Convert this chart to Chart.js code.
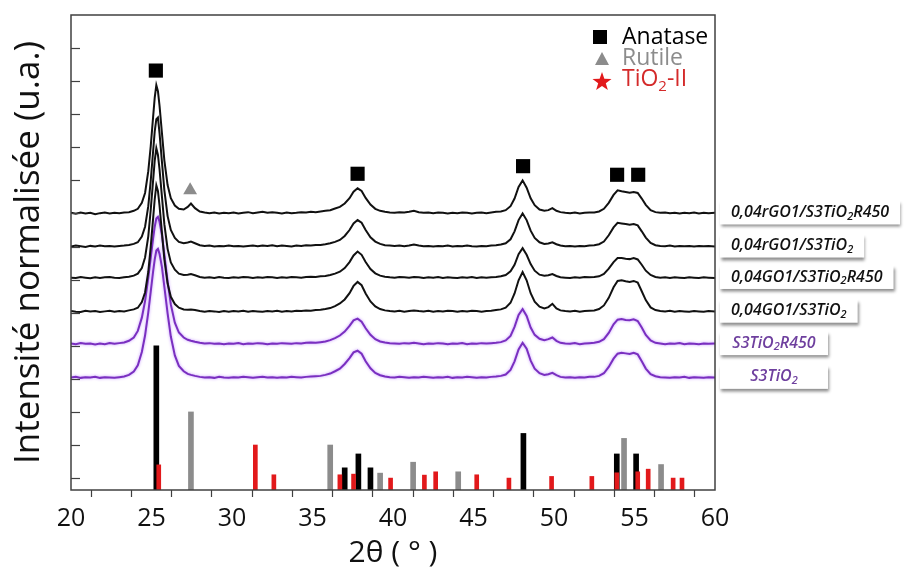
<!DOCTYPE html>
<html lang="fr">
<head>
<meta charset="utf-8">
<title>DRX - TiO2 / GO</title>
<script src="https://cdn.jsdelivr.net/npm/chart.js@4.4.0/dist/chart.umd.min.js"></script>
<style>
  html, body { margin: 0; padding: 0; background: #fff; }
  #wrap { width: 907px; height: 572px; position: relative; }
</style>
</head>
<body>
<div id="wrap"><canvas id="xrdChart"></canvas></div>
<script>
// 2θ grid shared by the measured patterns
const twoTheta = [
  20.0, 20.3, 20.6, 20.9, 21.2, 21.5, 21.8, 22.1, 22.4, 22.7,
  23.0, 23.3, 23.6, 23.9, 24.15, 24.4, 24.6, 24.8, 24.95, 25.1,
  25.2, 25.3, 25.4, 25.5, 25.65, 25.8, 26.0, 26.2, 26.45, 26.7,
  27.0, 27.25, 27.45, 27.7, 28.0, 28.3, 28.6, 28.9, 29.2, 29.5,
  29.8, 30.1, 30.4, 30.7, 31.0, 31.3, 31.6, 31.9, 32.2, 32.5,
  32.8, 33.1, 33.4, 33.7, 34.0, 34.3, 34.6, 34.9, 35.2, 35.5,
  35.8, 36.1, 36.4, 36.7, 37.0, 37.3, 37.55, 37.8, 38.05, 38.3,
  38.6, 38.9, 39.2, 39.5, 39.8, 40.1, 40.4, 40.7, 41.0, 41.3,
  41.6, 41.9, 42.2, 42.5, 42.8, 43.1, 43.4, 43.7, 44.0, 44.3,
  44.6, 44.9, 45.2, 45.5, 45.8, 46.1, 46.4, 46.7, 47.0, 47.3,
  47.55, 47.8, 48.05, 48.3, 48.55, 48.8, 49.1, 49.4, 49.65, 49.9,
  50.15, 50.4, 50.7, 51.0, 51.3, 51.6, 51.9, 52.2, 52.5, 52.8,
  53.1, 53.4, 53.7, 53.95, 54.2, 54.45, 54.7, 54.95, 55.2, 55.45,
  55.7, 56.0, 56.3, 56.6, 56.9, 57.2, 57.5, 57.8, 58.1, 58.4,
  58.7, 59.0, 59.3, 59.6, 60.0
];

// normalised intensity of each sample (without vertical shift)
const rgoR450 = [
  0.02, -0.01, 0.03, 0.00, 0.02, -0.02, 0.01, 0.03, 0.00, 0.02,
  0.01, 0.03, 0.04, 0.08, 0.14, 0.32, 0.62, 1.28, 2.02, 2.92,
  3.50, 3.88, 3.70, 3.25, 2.42, 1.60, 0.86, 0.46, 0.24, 0.14,
  0.12, 0.20, 0.30, 0.16, 0.06, 0.03, 0.01, 0.03, 0.00, 0.02,
  0.01, 0.03, 0.00, 0.02, 0.04, 0.01, 0.03, 0.05, 0.02, 0.04,
  0.02, 0.00, 0.03, 0.01, 0.02, 0.04, 0.03, 0.05, 0.04, 0.06,
  0.08, 0.10, 0.15, 0.20, 0.30, 0.46, 0.66, 0.76, 0.68, 0.47,
  0.27, 0.14, 0.08, 0.05, 0.03, 0.02, 0.04, 0.03, 0.05, 0.08,
  0.04, 0.02, 0.03, 0.01, 0.03, 0.02, 0.00, 0.02, 0.01, 0.03,
  0.02, 0.00, 0.02, 0.03, 0.01, 0.03, 0.05, 0.06, 0.10, 0.22,
  0.45, 0.80, 1.00, 0.78, 0.46, 0.25, 0.12, 0.08, 0.10, 0.16,
  0.08, 0.04, 0.02, 0.01, 0.03, 0.00, 0.02, 0.03, 0.03, 0.06,
  0.14, 0.32, 0.56, 0.70, 0.67, 0.65, 0.63, 0.65, 0.62, 0.45,
  0.26, 0.10, 0.04, 0.02, 0.03, 0.01, 0.02, 0.00, 0.02, 0.01,
  0.03, 0.00, 0.02, 0.01, 0.02
];
const rgoRaw = [
  0.00, 0.03, 0.01, -0.01, 0.02, 0.00, 0.03, 0.01, 0.02, 0.00,
  0.02, 0.03, 0.05, 0.08, 0.13, 0.30, 0.60, 1.22, 1.98, 2.88,
  3.48, 3.85, 3.90, 3.42, 2.55, 1.70, 0.92, 0.50, 0.26, 0.14,
  0.10, 0.12, 0.15, 0.10, 0.04, 0.02, 0.03, 0.00, 0.02, 0.01,
  0.03, 0.01, 0.02, 0.00, 0.02, 0.03, 0.01, 0.03, 0.02, 0.04,
  0.01, 0.03, 0.02, 0.00, 0.03, 0.02, 0.04, 0.03, 0.05, 0.05,
  0.07, 0.10, 0.14, 0.20, 0.32, 0.50, 0.70, 0.80, 0.72, 0.50,
  0.28, 0.15, 0.08, 0.04, 0.03, 0.02, 0.03, 0.01, 0.03, 0.06,
  0.03, 0.01, 0.02, 0.00, 0.02, 0.01, 0.03, 0.00, 0.02, 0.01,
  0.03, 0.01, 0.00, 0.02, 0.01, 0.03, 0.04, 0.06, 0.10, 0.22,
  0.46, 0.80, 1.00, 0.80, 0.48, 0.26, 0.13, 0.08, 0.09, 0.13,
  0.07, 0.03, 0.01, 0.02, 0.00, 0.02, 0.01, 0.03, 0.04, 0.07,
  0.15, 0.34, 0.58, 0.72, 0.70, 0.68, 0.66, 0.68, 0.64, 0.46,
  0.27, 0.11, 0.04, 0.02, 0.01, 0.03, 0.00, 0.02, 0.01, 0.02,
  0.00, 0.02, 0.01, 0.02, 0.00
];
const goR450 = [
  0.01, 0.00, 0.03, 0.01, -0.01, 0.02, 0.00, 0.02, 0.03, 0.01,
  0.00, 0.02, 0.04, 0.07, 0.13, 0.30, 0.62, 1.26, 2.05, 2.95,
  3.55, 3.92, 3.72, 3.28, 2.45, 1.62, 0.88, 0.47, 0.25, 0.13,
  0.09, 0.10, 0.12, 0.08, 0.03, 0.01, 0.02, 0.00, 0.03, 0.01,
  0.00, 0.02, 0.01, 0.03, 0.02, 0.00, 0.02, 0.01, 0.03, 0.02,
  0.00, 0.02, 0.01, 0.03, 0.02, 0.01, 0.03, 0.04, 0.03, 0.05,
  0.06, 0.09, 0.13, 0.19, 0.30, 0.48, 0.68, 0.80, 0.70, 0.48,
  0.27, 0.14, 0.07, 0.04, 0.02, 0.01, 0.03, 0.02, 0.01, 0.03,
  0.02, 0.00, 0.02, 0.01, 0.03, 0.00, 0.02, 0.01, 0.00, 0.02,
  0.01, 0.03, 0.00, 0.02, 0.01, 0.02, 0.03, 0.05, 0.09, 0.20,
  0.40, 0.72, 0.90, 0.70, 0.42, 0.22, 0.10, 0.07, 0.08, 0.12,
  0.06, 0.02, 0.01, 0.00, 0.02, 0.01, 0.03, 0.02, 0.03, 0.05,
  0.12, 0.28, 0.48, 0.60, 0.60, 0.58, 0.57, 0.60, 0.56, 0.40,
  0.22, 0.09, 0.03, 0.01, 0.02, 0.00, 0.02, 0.01, 0.00, 0.02,
  0.01, 0.00, 0.02, 0.01, 0.00
];
const goRaw = [
  0.02, 0.00, -0.01, 0.03, 0.01, 0.02, -0.01, 0.01, 0.03, 0.00,
  0.02, 0.01, 0.04, 0.07, 0.12, 0.29, 0.58, 1.20, 1.95, 2.82,
  3.40, 3.82, 3.65, 3.20, 2.38, 1.58, 0.85, 0.45, 0.23, 0.12,
  0.07, 0.06, 0.07, 0.05, 0.02, 0.00, 0.02, 0.01, -0.01, 0.02,
  0.00, 0.02, 0.01, 0.03, 0.00, 0.02, 0.01, 0.00, 0.02, 0.01,
  0.03, 0.00, 0.02, 0.01, 0.03, 0.02, 0.04, 0.03, 0.05, 0.06,
  0.08, 0.11, 0.17, 0.25, 0.37, 0.56, 0.78, 0.90, 0.80, 0.55,
  0.31, 0.16, 0.08, 0.04, 0.02, 0.01, 0.03, 0.00, 0.02, 0.04,
  0.02, 0.01, 0.03, 0.00, 0.02, 0.01, 0.03, 0.02, 0.00, 0.02,
  0.01, 0.03, 0.02, 0.00, 0.02, 0.03, 0.05, 0.07, 0.12, 0.27,
  0.55, 0.95, 1.20, 0.95, 0.56, 0.30, 0.15, 0.10, 0.14, 0.24,
  0.10, 0.04, 0.02, 0.01, 0.03, 0.00, 0.02, 0.03, 0.04, 0.08,
  0.19, 0.42, 0.74, 0.93, 0.95, 0.92, 0.90, 0.93, 0.88, 0.62,
  0.35, 0.13, 0.05, 0.02, 0.01, 0.03, 0.00, 0.02, 0.01, 0.00,
  0.02, 0.01, 0.00, 0.02, 0.01
];
const s3R450 = [
  0.02, 0.00, 0.03, 0.01, 0.02, -0.01, 0.02, 0.00, 0.03, 0.01,
  0.03, 0.05, 0.10, 0.20, 0.40, 0.80, 1.30, 2.00, 2.60, 3.20,
  3.55, 3.80, 3.85, 3.70, 3.30, 2.70, 1.90, 1.20, 0.65, 0.35,
  0.20, 0.13, 0.10, 0.07, 0.04, 0.02, 0.03, 0.01, 0.02, 0.00,
  0.02, 0.01, 0.03, 0.00, 0.02, 0.01, 0.03, 0.02, 0.00, 0.02,
  0.01, 0.03, 0.02, 0.01, 0.03, 0.02, 0.04, 0.05, 0.04, 0.06,
  0.08, 0.12, 0.18, 0.26, 0.38, 0.55, 0.72, 0.77, 0.68, 0.48,
  0.28, 0.15, 0.08, 0.05, 0.03, 0.02, 0.01, 0.03, 0.02, 0.04,
  0.02, 0.00, 0.02, 0.01, 0.03, 0.02, 0.00, 0.02, 0.01, 0.03,
  0.00, 0.02, 0.01, 0.03, 0.02, 0.03, 0.04, 0.06, 0.11, 0.25,
  0.52, 0.88, 1.06, 0.85, 0.50, 0.28, 0.16, 0.12, 0.15, 0.20,
  0.10, 0.04, 0.02, 0.01, 0.03, 0.00, 0.02, 0.03, 0.04, 0.07,
  0.15, 0.34, 0.60, 0.74, 0.76, 0.73, 0.72, 0.75, 0.70, 0.50,
  0.28, 0.11, 0.04, 0.02, 0.00, 0.02, 0.01, 0.03, 0.00, 0.02,
  0.01, 0.00, 0.02, 0.01, 0.02
];
const s3Raw = [
  0.01, 0.03, 0.00, 0.02, 0.01, 0.03, 0.00, 0.02, 0.01, 0.00,
  0.02, 0.04, 0.09, 0.19, 0.38, 0.78, 1.28, 1.98, 2.60, 3.22,
  3.58, 3.85, 3.90, 3.75, 3.35, 2.75, 1.95, 1.25, 0.68, 0.36,
  0.20, 0.12, 0.09, 0.06, 0.03, 0.01, 0.02, 0.00, 0.03, 0.01,
  0.00, 0.02, 0.01, 0.03, 0.02, 0.00, 0.02, 0.03, 0.01, 0.02,
  0.00, 0.02, 0.01, 0.03, 0.02, 0.01, 0.03, 0.04, 0.05, 0.06,
  0.09, 0.13, 0.20, 0.28, 0.42, 0.60, 0.77, 0.82, 0.73, 0.50,
  0.29, 0.15, 0.08, 0.04, 0.02, 0.01, 0.03, 0.02, 0.00, 0.02,
  0.01, 0.03, 0.02, 0.00, 0.02, 0.01, 0.03, 0.00, 0.02, 0.01,
  0.03, 0.02, 0.00, 0.02, 0.01, 0.03, 0.04, 0.06, 0.10, 0.24,
  0.50, 0.86, 1.06, 0.88, 0.52, 0.28, 0.14, 0.09, 0.11, 0.15,
  0.08, 0.03, 0.01, 0.02, 0.00, 0.02, 0.01, 0.03, 0.03, 0.06,
  0.14, 0.33, 0.58, 0.73, 0.76, 0.74, 0.72, 0.76, 0.71, 0.50,
  0.28, 0.11, 0.05, 0.02, 0.01, 0.00, 0.02, 0.01, 0.03, 0.00,
  0.02, 0.01, 0.00, 0.02, 0.01
];

// sample names ("_2" = subscript 2) and vertical shift used for stacking
const sampleNames = [
  '0,04rGO1/S3TiO_2R450', '0,04rGO1/S3TiO_2', '0,04GO1/S3TiO_2R450',
  '0,04GO1/S3TiO_2', 'S3TiO_2R450', 'S3TiO_2'
];
const sampleOffsets = [8.0, 7.0, 6.05, 5.03, 4.05, 3.03];
const samplePatterns = [rgoR450, rgoRaw, goR450, goRaw, s3R450, s3Raw];

// reference cards (JCPDS) : position 2θ and bar top
const anataseRefX = [25.3, 37.0, 37.85, 38.6, 48.1, 53.9, 55.1];
const anataseRefI = [4.0, 0.31, 0.73, 0.31, 1.35, 0.73, 0.73];
const rutileRefX = [27.45, 36.1, 39.2, 41.25, 44.05, 54.35, 56.65];
const rutileRefI = [2.0, 1.0, 0.15, 0.48, 0.19, 1.2, 0.41];
const tio2IIRefX = [25.45, 31.45, 32.6, 36.7, 37.55, 39.85, 41.95, 42.65, 45.2,
  47.2, 49.85, 52.35, 53.9, 55.2, 55.85, 57.4, 57.95];
const tio2IIRefI = [0.4, 1.0, 0.1, 0.1, 0.12, 0.0, 0.09, 0.19, 0.1,
  0.0, 0.05, 0.05, 0.16, 0.19, 0.27, 0.0, 0.0];

// phase markers placed above the indexed peaks
const anataseMarkX = [25.27, 37.8, 48.08, 53.92, 55.23];
const anataseMarkY = [12.32, 9.2, 9.43, 9.17, 9.17];
const rutileMarkX = [27.4];
const rutileMarkY = [8.7];

// axes
const xTickLabels = [20, 25, 30, 35, 40, 45, 50, 55, 60];
const yTicks = [0, 1, 2, 3, 4, 5, 6, 7, 8, 9, 10, 11, 12, 13];
const yMin = -0.36;
const yMax = 14;

const BLACK = '#111111';
const PURPLE = '#7a2fc0';
const LABEL_PURPLE = '#6e3f9e';
const GREY = '#8c8c8c';
const RED = '#e2191b';
const FONT = "'Open Sans', 'DejaVu Sans', sans-serif";

/**
 * Split a label with "_x" subscripts into drawable parts
 */
function richParts(str) {
    const parts = [];
    let buf = '';
    for (let i = 0; i < str.length; i++) {
        if (str[i] === '_' && i + 1 < str.length) {
            if (buf) parts.push({ t: buf, sub: false });
            parts.push({ t: str[i + 1], sub: true });
            buf = '';
            i++;
        } else {
            buf += str[i];
        }
    }
    if (buf) parts.push({ t: buf, sub: false });
    return parts;
}

function richWidth(ctx, str, font, subFont) {
    let w = 0;
    richParts(str).forEach(p => {
        ctx.font = p.sub ? subFont : font;
        w += ctx.measureText(p.t).width;
    });
    return w;
}

function drawRich(ctx, str, x, y, font, subFont, subShift) {
    let cx = x;
    richParts(str).forEach(p => {
        ctx.font = p.sub ? subFont : font;
        ctx.fillText(p.t, cx, p.sub ? y + subShift : y);
        cx += ctx.measureText(p.t).width;
    });
}

function drawStar(ctx, cx, cy, rOut, rIn) {
    ctx.beginPath();
    for (let i = 0; i < 10; i++) {
        const r = i % 2 === 0 ? rOut : rIn;
        const a = -Math.PI / 2 + i * Math.PI / 5;
        const px = cx + r * Math.cos(a);
        const py = cy + r * Math.sin(a);
        if (i === 0) ctx.moveTo(px, py); else ctx.lineTo(px, py);
    }
    ctx.closePath();
    ctx.fill();
}

/**
 * Frame, inward y ticks, phase legend and sample labels
 */
const decorPlugin = {
    id: 'decor',
    beforeDatasetDraw(chart, args) {
        const ds = chart.data.datasets[args.index];
        if (ds.glow) {
            chart.ctx.save();
            chart.ctx.shadowColor = 'rgba(190, 140, 255, 0.9)';
            chart.ctx.shadowBlur = 3;
        }
    },
    afterDatasetDraw(chart, args) {
        if (chart.data.datasets[args.index].glow) chart.ctx.restore();
    },
    afterDraw(chart) {
        const { ctx, chartArea: a, scales: { y } } = chart;
        ctx.save();

        // plot frame
        ctx.strokeStyle = '#404040';
        ctx.lineWidth = 1.5;
        ctx.strokeRect(a.left, a.top, a.right - a.left, a.bottom - a.top);

        // y ticks pointing inside
        ctx.lineWidth = 1.2;
        yTicks.forEach(v => {
            const py = Math.round(y.getPixelForValue(v)) + 0.5;
            ctx.beginPath();
            ctx.moveTo(a.left, py);
            ctx.lineTo(a.left + 9, py);
            ctx.stroke();
        });

        // phase legend
        const lx = a.right - 115;
        const tx = a.right - 93;
        ctx.textBaseline = 'middle';
        ctx.textAlign = 'left';
        const legFont = '23px ' + FONT;
        const legSub = '15px ' + FONT;

        ctx.fillStyle = '#000';
        ctx.fillRect(lx - 7, a.top + 15, 14, 14);
        ctx.font = legFont;
        ctx.fillText('Anatase', tx, a.top + 22);

        ctx.fillStyle = GREY;
        ctx.beginPath();
        ctx.moveTo(lx + 2, a.top + 37);
        ctx.lineTo(lx + 9, a.top + 50);
        ctx.lineTo(lx - 5, a.top + 50);
        ctx.closePath();
        ctx.fill();
        ctx.fillText('Rutile', tx, a.top + 43);

        ctx.fillStyle = RED;
        drawStar(ctx, lx + 2, a.top + 67, 10, 4);
        ctx.fillStyle = '#d42a2a';
        drawRich(ctx, 'TiO_2-II', tx, a.top + 64, legFont, legSub, 8);

        // sample labels in shadowed boxes
        const labFont = 'italic 600 16px ' + FONT;
        const labSub = 'italic 600 11px ' + FONT;
        const boxLeft = a.right + 5;
        sampleNames.forEach((name, i) => {
            const cy = y.getPixelForValue(sampleOffsets[i]) - 1;
            const tw = richWidth(ctx, name, labFont, labSub);
            const bw = Math.min(Math.max(tw + 22, 108), chart.width - boxLeft);
            ctx.save();
            ctx.shadowColor = 'rgba(0, 0, 0, 0.45)';
            ctx.shadowOffsetX = 1;
            ctx.shadowOffsetY = 3;
            ctx.shadowBlur = 3;
            ctx.fillStyle = '#fff';
            ctx.fillRect(boxLeft, cy - 12, bw, 24);
            ctx.restore();
            ctx.fillStyle = i >= 4 ? LABEL_PURPLE : '#111';
            ctx.textBaseline = 'middle';
            drawRich(ctx, name, boxLeft + (bw - tw) / 2, cy, labFont, labSub, 4);
        });

        ctx.restore();
    }
};

/**
 * Build all Chart.js datasets from the arrays above
 */
function buildDatasets() {
    const datasets = [];

    samplePatterns.forEach((pattern, i) => {
        datasets.push({
            type: 'line',
            label: sampleNames[i],
            data: twoTheta.map((x, k) => ({ x: x, y: pattern[k] + sampleOffsets[i] })),
            borderColor: i >= 4 ? PURPLE : BLACK,
            borderWidth: 2,
            pointRadius: 0,
            tension: 0,
            fill: false,
            glow: i >= 4
        });
    });

    datasets.push({
        type: 'line',
        label: 'Anatase',
        data: anataseMarkX.map((x, k) => ({ x: x, y: anataseMarkY[k] })),
        showLine: false,
        pointStyle: 'rect',
        pointRadius: 10,
        pointBackgroundColor: '#000',
        pointBorderWidth: 0
    });
    datasets.push({
        type: 'line',
        label: 'Rutile',
        data: rutileMarkX.map((x, k) => ({ x: x, y: rutileMarkY[k] })),
        showLine: false,
        pointStyle: 'triangle',
        pointRadius: 8,
        pointBackgroundColor: GREY,
        pointBorderWidth: 0
    });

    const refBars = [
        { label: 'TiO2-II ref', xs: tio2IIRefX, ys: tio2IIRefI, color: RED, w: 4 },
        { label: 'Anatase ref', xs: anataseRefX, ys: anataseRefI, color: '#000', w: 5 },
        { label: 'Rutile ref', xs: rutileRefX, ys: rutileRefI, color: GREY, w: 5 }
    ];
    refBars.forEach(r => {
        datasets.push({
            type: 'bar',
            label: r.label,
            data: r.xs.map((x, k) => ({ x: x, y: r.ys[k] })),
            backgroundColor: r.color,
            borderWidth: 0,
            barThickness: r.w,
            grouped: false,
            base: yMin
        });
    });

    return datasets;
}

function init() {
    const canvas = document.getElementById('xrdChart');
    new Chart(canvas, {
        type: 'line',
        data: { datasets: buildDatasets() },
        options: {
            responsive: true,
            maintainAspectRatio: false,
            animation: false,
            devicePixelRatio: 1,
            layout: { padding: { left: 0, right: 192, top: 15, bottom: 0 } },
            plugins: {
                legend: { display: false },
                tooltip: { enabled: false }
            },
            scales: {
                x: {
                    type: 'linear',
                    min: 20,
                    max: 60,
                    offset: false,
                    ticks: {
                        stepSize: 2.5,
                        autoSkip: false,
                        maxRotation: 0,
                        padding: 7,
                        color: '#111',
                        font: { family: FONT, size: 25 },
                        callback: v => xTickLabels.includes(v) ? String(v) : ''
                    },
                    grid: {
                        display: true,
                        drawOnChartArea: false,
                        drawTicks: true,
                        tickLength: 7,
                        tickColor: '#404040',
                        tickWidth: 1.2
                    },
                    border: { display: false },
                    title: {
                        display: true,
                        text: '2θ ( ° )',
                        color: '#111',
                        font: { family: FONT, size: 30 },
                        padding: { top: 0, bottom: 1 }
                    },
                    afterFit: scale => { scale.height = 82; }
                },
                y: {
                    type: 'linear',
                    min: yMin,
                    max: yMax,
                    ticks: { display: false, stepSize: 1 },
                    grid: { display: false },
                    border: { display: false },
                    title: {
                        display: true,
                        text: 'Intensité normalisée (u.a.)',
                        color: '#111',
                        font: { family: FONT, size: 35 },
                        padding: { top: 8, bottom: 0 }
                    },
                    afterFit: scale => { scale.width = 71; }
                }
            }
        },
        plugins: [decorPlugin]
    });
}

init();
</script>
</body>
</html>
